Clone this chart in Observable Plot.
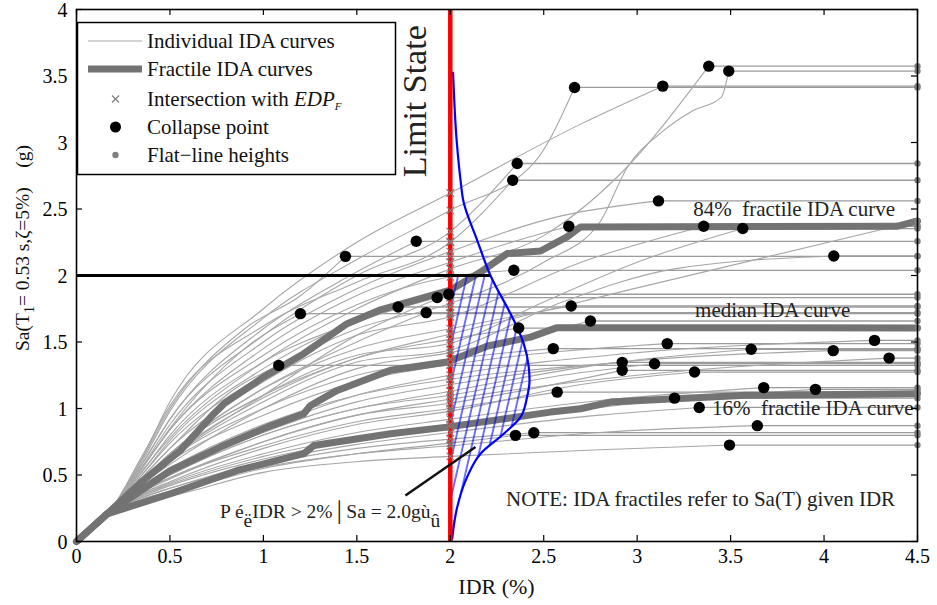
<!DOCTYPE html>
<html><head><meta charset="utf-8">
<script src="https://cdn.jsdelivr.net/npm/d3@7"></script>
<script src="https://cdn.jsdelivr.net/npm/@observablehq/plot@0.6"></script>
<style>
body{margin:0;background:#fff;}
#chart{width:937px;height:605px;}
svg{font-family:"Liberation Serif","DejaVu Serif",serif;}
</style></head><body><div id="chart"></div>
<script>
// ---------- data ----------
const xTicks = [0, 0.5, 1, 1.5, 2, 2.5, 3, 3.5, 4, 4.5];
const yTicks = [0, 0.5, 1, 1.5, 2, 2.5, 3, 3.5, 4];
const xMax = 4.5;

// all IDA curves leave the origin through the same elastic point
const idaStart = [[0, 0], [0.17, 0.21]];

// individual IDA curves; last point of each = collapse point
const idaCurves = [
  [[0.35,0.62],[0.5,1.05],[1.0,1.75],[1.5,2.25],[2.0,2.62],[2.7,3.14],[3.137,3.424]],
  [[0.35,0.6],[0.5,0.98],[1.0,1.68],[1.5,2.12],[2.0,2.49],[2.45,2.85],[2.665,3.414]],
  [[0.35,0.58],[0.5,0.92],[1.0,1.55],[1.5,2.0],[2.0,2.33],[2.358,2.842]],
  [[0.35,0.64],[0.5,1.02],[1.0,1.62],[1.5,1.95],[2.0,2.25],[2.334,2.716]],
  [[0.35,0.56],[0.5,0.88],[1.0,1.5],[1.5,1.9],[2.0,2.18],[2.6,2.45],[3.114,2.561]],
  [[0.35,0.55],[0.5,0.84],[1.0,1.45],[1.5,1.85],[2.0,2.1],[2.4,2.28],[2.634,2.37]],
  [[0.35,0.53],[0.5,0.78],[1.0,1.35],[1.5,1.75],[2.0,2.05],[2.5,2.3],[2.9,2.75],[3.383,3.574]],
  [[0.35,0.5],[0.5,0.74],[1.0,1.25],[1.5,1.6],[2.0,1.79],[2.5,2.1],[2.8,2.4],[2.95,2.82],[3.125,3.07],[3.3,3.24],[3.45,3.34],[3.49,3.537]],
  [[0.35,0.48],[0.5,0.7],[1.0,1.2],[1.5,1.55],[2.0,1.69],[2.7,2.1],[3.356,2.37]],
  [[0.35,0.46],[0.5,0.66],[1.0,1.1],[1.5,1.4],[2.0,1.49],[2.5,1.8],[3.0,2.1],[3.565,2.353]],
  [[0.35,0.44],[0.5,0.62],[1.0,1.05],[1.5,1.35],[2.0,1.44],[2.6,1.8],[3.2,2.05],[4.052,2.147]],
  [[0.35,0.55],[0.5,0.84],[1.0,1.4],[1.5,1.78],[2.0,1.99],[2.34,2.039]],
  [[0.35,0.47],[0.5,0.66],[1.0,1.15],[1.5,1.45],[2.0,1.6],[2.647,1.771]],
  [[0.35,0.43],[0.5,0.58],[1.0,1.0],[1.5,1.3],[2.0,1.42],[2.75,1.658]],
  [[0.35,0.46],[0.5,0.64],[1.0,1.08],[1.5,1.38],[2.0,1.52],[2.366,1.605]],
  [[0.35,0.41],[0.5,0.54],[1.0,0.85],[1.5,1.1],[2.0,1.25],[3.0,1.42],[4.27,1.512]],
  [[0.35,0.44],[0.5,0.6],[1.0,0.95],[1.5,1.2],[2.0,1.33],[2.6,1.43],[3.161,1.488]],
  [[0.35,0.45],[0.5,0.62],[1.0,1.0],[1.5,1.25],[2.0,1.37],[2.551,1.45]],
  [[0.35,0.39],[0.5,0.5],[1.0,0.8],[1.5,1.0],[2.0,1.13],[2.8,1.33],[3.61,1.445]],
  [[0.35,0.4],[0.5,0.52],[1.0,0.82],[1.5,1.05],[2.0,1.18],[3.0,1.36],[4.049,1.435]],
  [[0.35,0.38],[0.5,0.48],[1.0,0.75],[1.5,0.95],[2.0,1.07],[3.0,1.25],[4.348,1.379]],
  [[0.35,0.42],[0.5,0.55],[1.0,0.88],[1.5,1.1],[2.0,1.22],[2.92,1.347]],
  [[0.35,0.39],[0.5,0.5],[1.0,0.8],[1.5,1.0],[2.0,1.1],[2.6,1.25],[3.093,1.337]],
  [[0.35,0.37],[0.5,0.47],[1.0,0.75],[1.5,0.95],[2.0,1.04],[2.92,1.287]],
  [[0.35,0.36],[0.5,0.45],[1.0,0.7],[1.5,0.88],[2.0,0.98],[2.7,1.18],[3.307,1.274]],
  [[0.35,0.35],[0.5,0.44],[1.0,0.66],[1.5,0.82],[2.0,0.92],[2.8,1.06],[3.677,1.157]],
  [[0.35,0.34],[0.5,0.42],[1.0,0.62],[1.5,0.76],[2.0,0.86],[3.0,1.04],[3.954,1.144]],
  [[0.35,0.38],[0.5,0.48],[1.0,0.72],[1.5,0.9],[2.0,1.0],[2.572,1.123]],
  [[0.35,0.35],[0.5,0.43],[1.0,0.64],[1.5,0.78],[2.0,0.88],[2.7,1.0],[3.2,1.078]],
  [[0.35,0.33],[0.5,0.4],[1.0,0.6],[1.5,0.73],[2.0,0.82],[2.8,0.95],[3.332,1.008]],
  [[0.35,0.32],[0.5,0.38],[1.0,0.56],[1.5,0.66],[2.0,0.72],[2.8,0.82],[3.643,0.871]],
  [[0.35,0.33],[0.5,0.4],[1.0,0.58],[1.5,0.7],[2.0,0.77],[2.447,0.818]],
  [[0.35,0.31],[0.5,0.36],[1.0,0.55],[1.5,0.66],[2.0,0.74],[2.349,0.798]],
  [[0.35,0.3],[0.5,0.34],[1.0,0.52],[1.5,0.6],[2.0,0.64],[2.8,0.69],[3.494,0.725]],
  [[0.35,0.48],[0.5,0.7],[0.85,1.15],[1.082,1.324]],
  [[0.35,0.55],[0.5,0.85],[0.9,1.45],[1.198,1.713]],
  [[0.35,0.62],[0.5,1.0],[0.9,1.6],[1.2,1.85],[1.439,2.144]],
  [[0.35,0.5],[0.5,0.76],[1.0,1.3],[1.4,1.6],[1.721,1.763]],
  [[0.35,0.46],[0.5,0.66],[1.0,1.15],[1.5,1.5],[1.871,1.721]],
  [[0.35,0.52],[0.5,0.8],[1.0,1.35],[1.5,1.65],[1.93,1.834]],
  [[0.35,0.45],[0.5,0.63],[1.0,1.1],[1.5,1.55],[1.992,1.859]],
  [[0.35,0.58],[0.5,0.92],[1.0,1.6],[1.4,1.95],[1.818,2.257]]
];
// curve that never collapses inside the plotted range
const openCurves = [
  [[0.35,0.46],[0.5,0.66],[1.0,1.1],[1.5,1.38],[2.0,1.56],[2.95,1.89],[4.5,2.41]]
];

// fractile IDA curves
const fractile84 = [[0,0],[0.164,0.208],[0.35,0.45],[0.556,0.685],[0.735,0.961],[0.79,1.036],[1.0,1.236],[1.216,1.412],[1.448,1.638],[1.627,1.742],[2.0,1.89],[2.162,2.026],[2.304,2.165],[2.483,2.184],[2.625,2.29],[2.697,2.365],[4.39,2.37],[4.5,2.41]];
const fractile50 = [[0,0],[0.164,0.208],[0.503,0.534],[0.77,0.71],[1.02,0.86],[1.216,0.961],[1.252,1.023],[1.395,1.136],[1.68,1.287],[1.983,1.349],[2.2,1.47],[2.429,1.537],[2.572,1.608],[4.5,1.605]];
const fractile16 = [[0,0],[0.164,0.208],[0.503,0.359],[0.86,0.534],[1.216,0.66],[1.27,0.722],[1.68,0.81],[1.983,0.86],[2.536,0.973],[2.697,0.998],[2.857,1.048],[3.58,1.099],[4.5,1.111]];

// limit state and the probability distribution drawn on it
const limitIDR = 2.0;
const limitSa = 2.0;
const pdfSa  = [0.02, 0.258, 0.484, 0.66, 0.81, 0.935, 1.086, 1.211, 1.312, 1.488, 1.663, 2.0, 2.265, 2.566, 2.716, 3.0, 3.524];
const pdfIDR = [2.01, 2.037, 2.09, 2.162, 2.286, 2.376, 2.411, 2.424, 2.42, 2.393, 2.34, 2.215, 2.144, 2.069, 2.055, 2.035, 2.015];

// annotation text
const fractileLabels = [
  {text: "84%  fractile IDA curve", x: 3.30, y: 2.50},
  {text: "median IDA curve",       x: 3.31, y: 1.74},
  {text: "16%  fractile IDA curve", x: 3.40, y: 1.00}
];
const noteLabel = {text: "NOTE: IDA fractiles refer to Sa(T) given IDR", x: 4.38, y: 0.32};
const probLabel = {pre: "P \u00e9", low1: "\u00eb", mid: "IDR > 2%\u2502Sa = 2.0g\u00f9", low2: "\u00fb", x: 0.77, y: 0.173};
const probPointer = [{x1: 1.76, y1: 0.346, x2: 2.135, y2: 0.71}];
const limitLabel = {text: "Limit State", x: 1.814, y: 3.31};

// ---------- derived tables ----------
const idaRows = [];
idaCurves.forEach((c, i) => idaStart.concat(c).forEach(([x, y]) => idaRows.push({id: "c" + i, x, y})));
openCurves.forEach((c, i) => idaStart.concat(c).forEach(([x, y]) => idaRows.push({id: "o" + i, x, y})));
const collapse = idaCurves.map(c => ({x: c[c.length - 1][0], y: c[c.length - 1][1]}));
const flatEnds = collapse.map(d => d.y).concat(openCurves.map(c => c[c.length - 1][1]));
const crossings = idaCurves.concat(openCurves).map(c => {
  const p = c.find(([x]) => x === limitIDR);
  return p ? p[1] : c[c.length - 1][1];
});
const toRows = (arr, id) => arr.map(([x, y]) => ({id, x, y}));
const fractRows = [...toRows(fractile84, "84"), ...toRows(fractile50, "50"), ...toRows(fractile16, "16")];
const pdfRows = pdfSa.map((y, i) => ({y, x: pdfIDR[i]}));
const hatchRows = pdfRows.filter(d => d.y <= limitSa);
const limitX2 = pdfIDR[pdfSa.indexOf(limitSa)];

const serif = '"Liberation Serif","DejaVu Serif",serif';
const plotW = 937 - 76 - 20, plotH = 605 - 9 - 64;

const plot = Plot.plot({
  width: 937, height: 605,
  marginLeft: 76, marginRight: 20, marginTop: 9, marginBottom: 64,
  x: {domain: [0, xMax], label: null},
  y: {domain: [0, 4], label: null},
  style: {fontFamily: serif, fontSize: "20px", color: "black", background: "white", overflow: "visible"},
  marks: [
    Plot.axisX(xTicks, {tickSize: 0, tickPadding: 7, fontSize: 20, tickFormat: d => String(d), label: null}),
    Plot.axisY(yTicks, {tickSize: 0, tickPadding: 9, fontSize: 20, dy: 1, tickFormat: d => String(d), label: null}),
    // flat lines after collapse
    Plot.link(collapse, {x1: "x", y1: "y", x2: () => xMax, y2: "y", stroke: "#9b9b9b", strokeWidth: 1.3}),
    // individual curves
    Plot.line(idaRows, {x: "x", y: "y", z: "id", stroke: "#a6a6a6", strokeWidth: 1.1, curve: "monotone-x"}),
    // fractile curves
    Plot.line(fractRows, {x: "x", y: "y", z: "id", stroke: "#737373", strokeWidth: 7, curve: "linear", strokeLinejoin: "round"}),
    // hatched probability area
    Plot.areaX(hatchRows, {y: "y", x1: limitIDR, x2: "x", fill: "url(#hatch)", curve: "monotone-y"}),
    // pdf curve
    Plot.line(pdfRows, {x: "x", y: "y", stroke: "#0000ff", strokeWidth: 2.2, curve: "monotone-y"}),
    // limit state line
    Plot.ruleX([limitIDR], {stroke: "#ff0000", strokeWidth: 4.5}),
    // intersections with EDP_F
    Plot.dot(crossings, {x: () => limitIDR, y: d => d, symbol: "times", r: 3.5, stroke: "#7d7d7d", strokeWidth: 1.2}),
    // Sa = 2.0 line
    Plot.ruleY([limitSa], {x1: 0, x2: limitX2, stroke: "black", strokeWidth: 3}),
    // pointer
    Plot.link(probPointer, {x1: "x1", y1: "y1", x2: "x2", y2: "y2", stroke: "#111", strokeWidth: 2.5}),
    // collapse points
    Plot.dot(collapse, {x: "x", y: "y", r: 5.7, fill: "black"}),
    // flat-line heights
    Plot.dot(flatEnds, {x: () => xMax, y: d => d, r: 3.2, fill: "#808080"}),
    // labels
    Plot.text(fractileLabels, {x: "x", y: "y", text: "text", textAnchor: "start", fontSize: 21, fill: "#222"}),
    Plot.text([noteLabel], {x: "x", y: "y", text: "text", textAnchor: "end", fontSize: 21, fill: "#222"}),
    Plot.text([limitLabel], {x: "x", y: "y", text: "text", rotate: -90, fontSize: 34, fill: "#222"}),
    // inward ticks on all four sides
    Plot.ruleX(xTicks, {insetTop: plotH - 6, stroke: "black", strokeWidth: 1.2}),
    Plot.ruleX(xTicks, {insetBottom: plotH - 6, stroke: "black", strokeWidth: 1.2}),
    Plot.ruleY(yTicks, {insetRight: plotW - 6, stroke: "black", strokeWidth: 1.2}),
    Plot.ruleY(yTicks, {insetLeft: plotW - 6, stroke: "black", strokeWidth: 1.2}),
    Plot.frame({stroke: "black", strokeWidth: 1.6})
  ]
});

const svg = d3.select(plot);
const sx = plot.scale("x"), sy = plot.scale("y");
// hatch pattern definition
const defs = svg.insert("defs", ":first-child");
const pat = defs.append("pattern").attr("id", "hatch").attr("patternUnits", "userSpaceOnUse")
  .attr("width", 8.6).attr("height", 60).attr("patternTransform", "rotate(13)");
pat.append("line").attr("x1", 1).attr("x2", 1).attr("y1", -5).attr("y2", 65)
  .attr("stroke", "#0000ff").attr("stroke-width", 1.1);

// probability annotation (one text, with the stacked bracket glyphs set lower)
const pt = svg.append("text").attr("x", sx.apply(probLabel.x)).attr("y", sy.apply(probLabel.y))
  .attr("text-anchor", "start").attr("font-size", 19.5).attr("fill", "#222");
pt.append("tspan").text(probLabel.pre);
pt.append("tspan").attr("dy", 9).text(probLabel.low1);
pt.append("tspan").attr("dy", -9).text(probLabel.mid);
pt.append("tspan").attr("dy", 9).text(probLabel.low2);

// axis titles
svg.append("text").attr("x", 496.5).attr("y", 594).attr("text-anchor", "middle")
  .attr("font-size", 22).attr("fill", "#111").text("IDR (%)");
const yl = svg.append("text").attr("transform", "translate(29,248) rotate(-90)")
  .attr("text-anchor", "middle").attr("font-size", 19.5).attr("fill", "#111");
yl.append("tspan").text("Sa(T");
yl.append("tspan").attr("font-size", 14).attr("dy", 5).text("1");
yl.append("tspan").attr("dy", -5).text("= 0.53 s,\u03b6=5%)\u2003(g)");

// legend box
const lg = svg.append("g").attr("font-family", serif).attr("font-size", 21).attr("fill", "#111").attr("text-anchor", "start");
lg.append("rect").attr("x", 77.5).attr("y", 22.5).attr("width", 318).attr("height", 152)
  .attr("fill", "white").attr("stroke", "black").attr("stroke-width", 1.5);
const rowY = [41, 69, 99, 127, 155];
lg.append("line").attr("x1", 88).attr("x2", 142).attr("y1", rowY[0]).attr("y2", rowY[0]).attr("stroke", "#a6a6a6").attr("stroke-width", 1.2);
lg.append("line").attr("x1", 88).attr("x2", 142).attr("y1", rowY[1]).attr("y2", rowY[1]).attr("stroke", "#737373").attr("stroke-width", 7);
lg.append("path").attr("d", `M${112},${rowY[2]-3.5}l7,7M${119},${rowY[2]-3.5}l-7,7`).attr("stroke", "#7d7d7d").attr("stroke-width", 1.2);
lg.append("circle").attr("cx", 115.5).attr("cy", rowY[3]).attr("r", 5.5).attr("fill", "black");
lg.append("circle").attr("cx", 115.5).attr("cy", rowY[4]).attr("r", 3.2).attr("fill", "#808080");
const legTexts = ["Individual IDA curves", "Fractile IDA curves", null, "Collapse point", "Flat\u2212line heights"];
legTexts.forEach((t, i) => { if (t) lg.append("text").attr("x", 147).attr("y", rowY[i] + 7).text(t); });
const it = lg.append("text").attr("x", 147).attr("y", rowY[2] + 7);
it.append("tspan").text("Intersection with ");
it.append("tspan").attr("font-style", "italic").text("EDP");
it.append("tspan").attr("font-style", "italic").attr("font-size", 11).attr("dy", 4).text("F");

document.getElementById("chart").appendChild(plot);
</script></body></html>
